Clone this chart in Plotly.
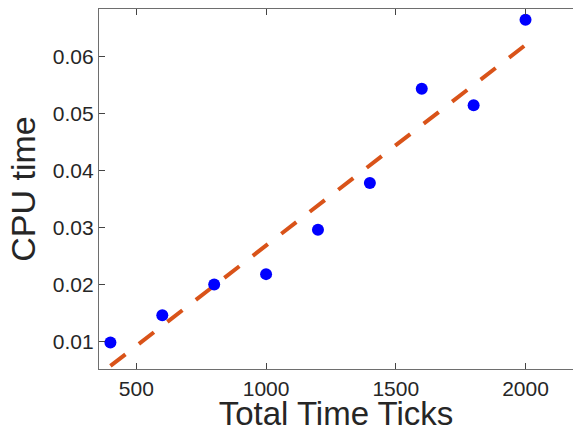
import plotly.graph_objects as go

# Data
ticks_x = [400, 600, 800, 1000, 1200, 1400, 1600, 1800, 2000]
cpu_time = [0.0098, 0.0146, 0.0200, 0.0218, 0.0296, 0.0378, 0.0543, 0.0514, 0.0664]

# Dashed fit line endpoints
fit_x = [400, 2000]
fit_y = [0.0057, 0.0620]

x_tick_vals = [500, 1000, 1500, 2000]
y_tick_vals = [0.01, 0.02, 0.03, 0.04, 0.05, 0.06]
y_tick_text = ["0.01", "0.02", "0.03", "0.04", "0.05", "0.06"]

FONT = "Liberation Sans, Arial, Helvetica, sans-serif"
TXT = "#262626"

fig = go.Figure()
fig.add_trace(go.Scatter(
    x=fit_x, y=fit_y, mode="lines",
    line=dict(color="#D95319", width=4, dash="19px,17px"),
    showlegend=False, hoverinfo="skip",
))
fig.add_trace(go.Scatter(
    x=ticks_x, y=cpu_time, mode="markers",
    marker=dict(color="#0000FF", size=12, line=dict(width=0)),
    showlegend=False,
))

fig.update_layout(
    width=573, height=432,
    margin=dict(l=99, r=0, t=9, b=63, pad=0),
    paper_bgcolor="white", plot_bgcolor="white",
    font=dict(family=FONT, color=TXT),
)
fig.update_xaxes(
    range=[356, 2183], tickvals=x_tick_vals,
    showgrid=False, zeroline=False,
    showline=True, linecolor="#6e6e6e", linewidth=1.3, mirror="ticks",
    ticks="inside", ticklen=6, tickwidth=1.3, tickcolor="#444444",
    ticklabelstandoff=1,
    tickfont=dict(size=21, color=TXT, family=FONT),
    title=dict(text="Total Time Ticks", font=dict(size=33, color=TXT, family=FONT), standoff=8),
    automargin=False,
)
fig.update_yaxes(
    range=[0.00516, 0.0683], tickvals=y_tick_vals, ticktext=y_tick_text,
    showgrid=False, zeroline=False,
    showline=True, linecolor="#6e6e6e", linewidth=1.3, mirror=False,
    ticks="inside", ticklen=6, tickwidth=1.3, tickcolor="#444444",
    tickfont=dict(size=21, color=TXT, family=FONT),
    title=dict(text="CPU time", font=dict(size=34, color=TXT, family=FONT), standoff=6),
    automargin=False,
)

fig.write_html(
    "out.html",
    config={"displayModeBar": False},
    post_script="document.body.style.margin='0';document.body.style.overflow='hidden';",
)
